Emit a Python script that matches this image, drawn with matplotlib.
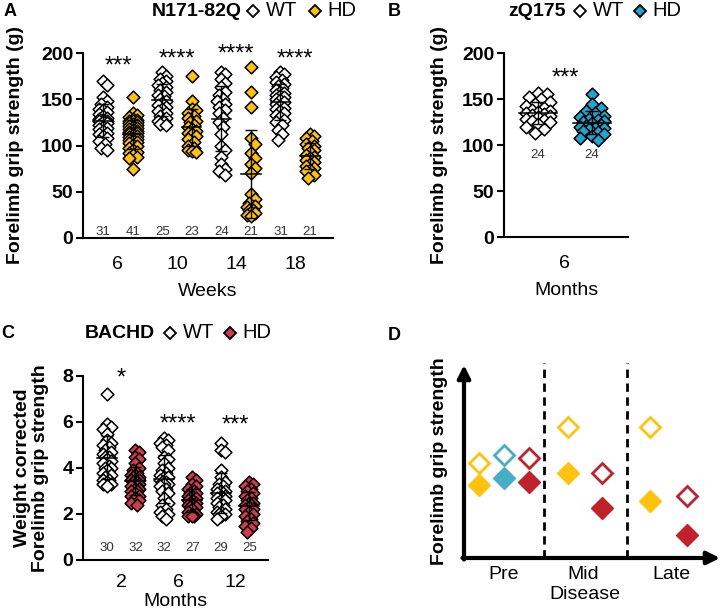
import numpy as np
import matplotlib
matplotlib.use("Agg")
import matplotlib.pyplot as plt
from matplotlib.lines import Line2D

plt.rcParams['font.family'] = ['Liberation Sans', 'DejaVu Sans']

# ---- data ----
# A: N171-82Q, forelimb grip strength (g)
a_weeks = ['6', '10', '14', '18']
a_wt = [
    [170, 165, 152, 148, 145, 142, 140, 138, 136, 134, 132, 130, 129, 128, 127, 126, 125, 124, 122, 120, 119, 118, 116, 114, 112, 110, 108, 105, 102, 97, 95],
    [180, 175, 172, 170, 168, 165, 163, 160, 158, 155, 153, 150, 148, 146, 144, 142, 140, 137, 135, 132, 130, 127, 125, 123, 122],
    [180, 177, 172, 168, 163, 158, 155, 150, 148, 145, 142, 138, 135, 130, 125, 120, 112, 100, 95, 88, 80, 75, 72, 68],
    [179, 177, 174, 171, 169, 166, 164, 162, 160, 158, 157, 155, 154, 152, 150, 149, 147, 145, 143, 141, 139, 137, 135, 133, 131, 128, 125, 122, 117, 112, 106],
]
a_hd = [
    [152, 135, 133, 131, 129, 128, 127, 126, 125, 124, 123, 122, 121, 120, 119, 118, 117, 116, 115, 114, 113, 112, 111, 110, 109, 108, 107, 106, 105, 104, 103, 101, 99, 97, 95, 93, 92, 90, 88, 86, 75],
    [175, 148, 140, 138, 135, 132, 130, 127, 125, 122, 120, 118, 116, 114, 112, 110, 107, 104, 100, 97, 95, 94, 93],
    [185, 158, 142, 108, 102, 92, 86, 80, 76, 70, 48, 42, 38, 35, 33, 30, 30, 28, 27, 25, 24],
    [112, 110, 108, 105, 102, 100, 97, 95, 93, 90, 88, 86, 84, 82, 80, 78, 76, 74, 72, 68, 65],
]
a_stars = ['***', '****', '****', '****']
a_star_y = [185, 193, 198, 193]

# B: zQ175, 6 months
b_months = ['6']
b_wt = [[157, 155, 152, 150, 147, 145, 142, 140, 138, 137, 136, 135, 134, 133, 132, 130, 128, 127, 126, 125, 123, 120, 117, 113]]
b_hd = [[155, 145, 140, 137, 135, 132, 130, 128, 127, 126, 125, 124, 122, 121, 120, 119, 118, 117, 115, 114, 112, 110, 108, 105]]
b_stars = ['***']
b_star_y = [172]

# C: BACHD, weight corrected grip strength
c_months = ['2', '6', '12']
c_wt = [
    [7.2, 5.9, 5.8, 5.7, 5.5, 5.2, 5.1, 5.0, 4.9, 4.8, 4.7, 4.6, 4.5, 4.5, 4.4, 4.3, 4.2, 4.1, 4.0, 4.0, 3.9, 3.8, 3.7, 3.6, 3.5, 3.5, 3.4, 3.3, 3.3, 3.2],
    [5.3, 5.2, 5.1, 5.0, 4.9, 4.8, 4.5, 4.4, 4.2, 4.0, 3.9, 3.8, 3.7, 3.6, 3.6, 3.5, 3.4, 3.4, 3.3, 3.3, 3.2, 3.1, 3.0, 2.9, 2.7, 2.5, 2.4, 2.2, 2.1, 2.0, 1.9, 1.8],
    [5.1, 4.8, 4.7, 3.9, 3.6, 3.4, 3.3, 3.2, 3.1, 3.0, 3.0, 2.9, 2.9, 2.8, 2.8, 2.7, 2.7, 2.6, 2.6, 2.5, 2.4, 2.3, 2.2, 2.1, 2.1, 2.0, 2.0, 1.9, 1.8],
]
c_hd = [
    [4.8, 4.7, 4.5, 4.4, 4.2, 4.0, 3.9, 3.8, 3.7, 3.7, 3.6, 3.6, 3.5, 3.5, 3.5, 3.4, 3.4, 3.3, 3.3, 3.2, 3.2, 3.1, 3.1, 3.0, 3.0, 2.9, 2.8, 2.8, 2.7, 2.6, 2.5, 2.4],
    [3.6, 3.5, 3.3, 3.2, 3.1, 3.0, 2.9, 2.9, 2.8, 2.8, 2.7, 2.7, 2.6, 2.6, 2.5, 2.5, 2.4, 2.4, 2.3, 2.3, 2.2, 2.1, 2.0, 2.0, 1.9, 1.9, 1.9],
    [3.4, 3.3, 3.2, 3.1, 3.0, 2.9, 2.8, 2.7, 2.6, 2.5, 2.5, 2.4, 2.4, 2.3, 2.2, 2.2, 2.1, 2.0, 1.9, 1.8, 1.7, 1.6, 1.5, 1.4, 1.2],
]
c_stars = ['*', '****', '***']
c_star_y = [7.87, 5.91, 5.83]

# D: schematic summary
d_stages = ['Pre', 'Mid', 'Late']
d_pos = [0.59, 1.56, 2.54, 4.06, 5.39, 7.27, 8.71]
d_wt = [4.92, 5.34, 5.18, 6.79, 4.40, 6.79, 3.21]
d_hd = [3.78, 4.15, 3.94, 4.40, 2.59, 2.95, 1.19]
d_model = ['N171', 'zQ175', 'BACHD', 'N171', 'BACHD', 'N171', 'BACHD']

GOLD = '#FFC20E'
BLUE = '#1FA6D0'
PINK = '#D23A4E'
RED = '#C1212B'
DBLUE = '#47AEC6'
d_colors = {'N171': GOLD, 'zQ175': DBLUE, 'BACHD': RED}

W, H = 721, 610
fig = plt.figure(figsize=(W / 100, H / 100), dpi=100)


def px(x, y):
    return x / W, 1 - y / H


def box(l, t, r, b):
    return [l / W, 1 - b / H, (r - l) / W, (b - t) / H]


def swarm(vals, ypx, xpx, r, step, maxoff):
    # simple beeswarm in pixel space
    vals = np.asarray(vals, float)
    offs = np.zeros(len(vals))
    placed = []
    cands = [0.0]
    k = 1
    while k * step <= maxoff:
        cands += [k * step, -k * step]
        k += 1
    for i in np.argsort(vals)[::-1]:
        y = vals[i] * ypx
        best = None
        for c in cands:
            if all((c - p) ** 2 + (y - q) ** 2 >= r * r for p, q in placed):
                best = c
                break
        if best is None:
            best = max(cands, key=lambda c: min((c - p) ** 2 + (y - q) ** 2 for p, q in placed))
        placed.append((best, y))
        offs[i] = best / xpx
    return offs


def column(ax, x, vals, fc, ypx, xpx, spread, mean_hw, cap_pt):
    vals = np.asarray(vals, float)
    offs = swarm(vals, ypx, xpx, *spread)
    ax.scatter(x + offs, vals, s=42, marker='D', facecolor=fc, edgecolor='black',
               linewidth=1.1, zorder=3, clip_on=False)
    m, sd = vals.mean(), vals.std(ddof=1)
    ax.errorbar([x], [m], yerr=[sd], fmt='none', ecolor='black', elinewidth=1.0,
                capsize=cap_pt, capthick=1.0, zorder=4)
    ax.plot([x - mean_hw, x + mean_hw], [m, m], color='black', lw=1.1, zorder=4)


def style(ax, ymax, ystep, xpad=13):
    for s in ['top', 'right']:
        ax.spines[s].set_visible(False)
    for s in ['left', 'bottom']:
        ax.spines[s].set_linewidth(1.5)
    ax.set_ylim(0, ymax)
    ax.set_yticks(np.arange(0, ymax + ystep / 2, ystep))
    ax.set_yticklabels([f'{v:g}' for v in np.arange(0, ymax + ystep / 2, ystep)],
                       fontweight='bold')
    ax.tick_params(axis='y', length=5, width=1.5, labelsize=14, pad=2)
    ax.tick_params(axis='x', length=0, labelsize=14, pad=xpad)


def key(xname, name, xwt, xhd, y, hdcolor):
    fig.text(*px(xname, y), name, fontsize=14, fontweight='bold', ha='left', va='center')
    fig.add_artist(Line2D([xwt / W], [1 - y / H], marker='D', ms=6, mfc='white', mec='black',
                          mew=1.3, transform=fig.transFigure))
    fig.text(*px(xwt + 13, y), 'WT', fontsize=14.5, ha='left', va='center')
    fig.add_artist(Line2D([xhd / W], [1 - y / H], marker='D', ms=6, mfc=hdcolor, mec='black',
                          mew=1.3, transform=fig.transFigure))
    fig.text(*px(xhd + 12, y), 'HD', fontsize=14.5, ha='left', va='center')


def n_labels(ax, xs, groups, y, trans):
    for x, g in zip(xs, groups):
        ax.text(x, y, str(len(g)), fontsize=9.5, color='#333333', ha='center',
                va='center', transform=trans)


# ---- A ----
axA = fig.add_axes(box(83, 53, 333, 238))
style(axA, 200, 50)
axA.set_xlim(-0.68, 7.78)
a_groups = []
for i in range(4):
    a_groups += [a_wt[i], a_hd[i]]
for j, g in enumerate(a_groups):
    column(axA, j, g, 'white' if j % 2 == 0 else GOLD, 0.925, 29.6, (6, 2, 5), 0.33, 4.3)
axA.set_xticks([0.5, 2.5, 4.5, 6.5])
axA.set_xticklabels(a_weeks)
axA.set_xlabel('Weeks', fontsize=14, labelpad=7)
axA.set_ylabel('Forelimb grip strength (g)', fontsize=14, fontweight='bold')
axA.yaxis.set_label_coords(-0.235, 0.5)
n_labels(axA, range(8), a_groups, 0.035, axA.get_xaxis_transform())
for i in range(4):
    axA.text(2 * i + 0.5, a_star_y[i], a_stars[i], fontsize=17, ha='center', va='center')

# ---- B ----
axB = fig.add_axes(box(504, 53, 628, 237))
style(axB, 200, 50)
axB.set_xlim(-0.63, 1.67)
column(axB, 0, b_wt[0], 'white', 0.92, 54, (8, 3, 13), 0.35, 5)
column(axB, 1, b_hd[0], BLUE, 0.92, 54, (8, 3, 13), 0.35, 5)
axB.set_xticks([0.5])
axB.set_xticklabels(b_months)
axB.set_xlabel('Months', fontsize=14, labelpad=7)
axB.set_ylabel('Forelimb grip strength (g)', fontsize=14, fontweight='bold')
axB.yaxis.set_label_coords(-0.45, 0.5)
n_labels(axB, [0, 1], [b_wt[0], b_hd[0]], 89, axB.transData)
axB.text(0.5, b_star_y[0], b_stars[0], fontsize=17, ha='center', va='center')

# ---- C ----
axC = fig.add_axes(box(83, 376, 268, 560))
style(axC, 8, 2, xpad=10)
axC.set_xlim(-0.84, 5.65)
c_groups = []
for i in range(3):
    c_groups += [c_wt[i], c_hd[i]]
for j, g in enumerate(c_groups):
    column(axC, j, g, 'white' if j % 2 == 0 else PINK, 23, 28.5, (6, 2, 5), 0.35, 4.3)
axC.set_xticks([0.5, 2.5, 4.5])
axC.set_xticklabels(c_months)
axC.set_xlabel('Months', fontsize=14)
axC.xaxis.set_label_coords(0.5, -0.18)
axC.set_ylabel('Weight corrected\nForelimb grip strength', fontsize=14, fontweight='bold',
               linespacing=1.05)
axC.yaxis.set_label_coords(-0.185, 0.5)
n_labels(axC, range(6), c_groups, 0.065, axC.get_xaxis_transform())
for i in range(3):
    axC.text(2 * i + 0.5, c_star_y[i], c_stars[i], fontsize=17, ha='center', va='center')

# ---- D ----
axD = fig.add_axes(box(464, 365, 720, 558))
axD.set_xlim(0, 10)
axD.set_ylim(0, 10)
for s in axD.spines.values():
    s.set_visible(False)
axD.set_xticks([])
axD.set_yticks([])
axD.annotate('', xy=(1.0, 0), xytext=(-0.006, 0), xycoords='axes fraction',
             arrowprops=dict(arrowstyle='-|>', lw=3, color='black', mutation_scale=19,
                             shrinkA=0, shrinkB=0))
axD.annotate('', xy=(0, 1.0), xytext=(0, -0.008), xycoords='axes fraction',
             arrowprops=dict(arrowstyle='-|>', lw=3, color='black', mutation_scale=19,
                             shrinkA=0, shrinkB=0))
axD.vlines([3.125, 6.37], 0, 10.1, colors='black', lw=2, linestyles=(0, (3, 2)),
           clip_on=False)
for x, w, h, m in zip(d_pos, d_wt, d_hd, d_model):
    c = d_colors[m]
    axD.plot(x, w, marker='D', ms=10, mfc='white', mec=c, mew=2, clip_on=False)
    axD.plot(x, h, marker='D', ms=11, mfc=c, mec=c, mew=1, clip_on=False)
for x, lab in zip([1.56, 4.65, 8.1], d_stages):
    axD.text(x, -0.088, lab, fontsize=14, ha='center', va='center',
             transform=axD.get_xaxis_transform())
axD.text(4.73, -0.19, 'Disease', fontsize=14, ha='center', va='center',
         transform=axD.get_xaxis_transform())
axD.set_ylabel('Forelimb grip strength', fontsize=14, fontweight='bold')
axD.yaxis.set_label_coords(-0.062, 0.5)

# ---- titles and panel letters ----
key(152, 'N171-82Q', 253, 315, 11, GOLD)
key(508, 'zQ175', 580, 640, 11, BLUE)
key(85, 'BACHD', 170, 230, 333, PINK)
for lab, x, y in [('A', 4, 11), ('B', 388, 11), ('C', 1, 333), ('D', 388, 335)]:
    fig.text(*px(x, y), lab, fontsize=13, fontweight='bold', ha='left', va='center')

fig.savefig('out.png', dpi=100)
